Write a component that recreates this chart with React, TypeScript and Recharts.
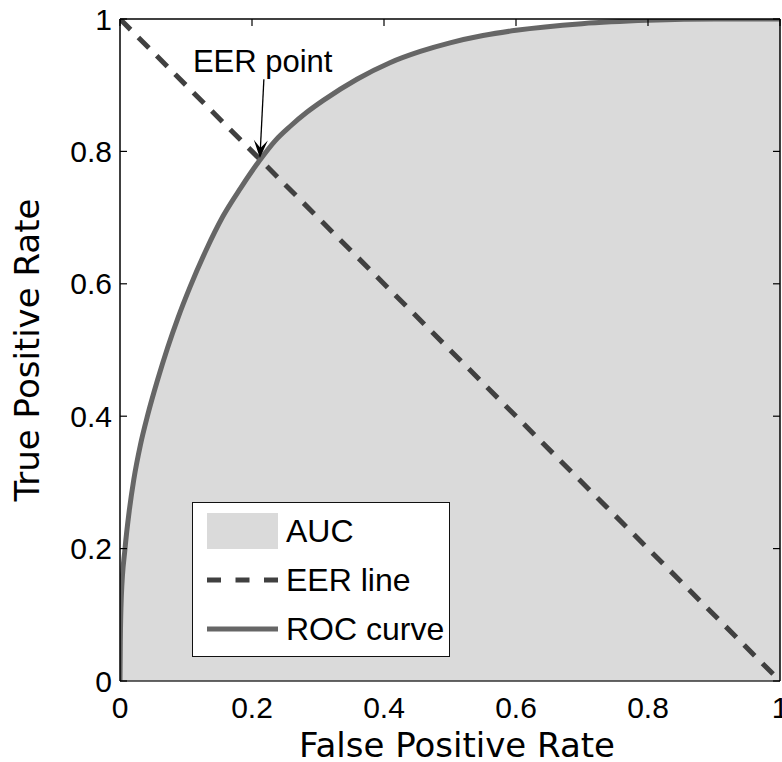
import React from "react";
import {
  Area,
  ComposedChart,
  Label,
  Legend,
  Line,
  ReferenceLine,
  XAxis,
  YAxis
} from "recharts";

// ROC curve (false positive rate -> true positive rate)
const fprValues = [0, 0.0005, 0.002, 0.0076, 0.014, 0.021, 0.031, 0.042, 0.057, 0.072, 0.088, 0.106, 0.13, 0.156, 0.183, 0.212, 0.235, 0.258, 0.283, 0.308, 0.359, 0.409, 0.455, 0.5, 0.55, 0.6, 0.7, 0.8, 0.9, 1];
const tprValues = [0, 0.06, 0.127, 0.2, 0.257, 0.305, 0.357, 0.402, 0.455, 0.503, 0.549, 0.595, 0.65, 0.702, 0.745, 0.787, 0.816, 0.838, 0.859, 0.877, 0.909, 0.934, 0.951, 0.964, 0.975, 0.983, 0.993, 0.998, 1, 1];

// equal error rate line, corner to corner
const eerFpr = [0, 1];
const eerTpr = [1, 0];

// annotation arrow: from label down to the EER point
const eerArrowFrom = [0.218, 0.909];
const eerPoint = [0.212, 0.79];

const axisTicks = [0, 0.2, 0.4, 0.6, 0.8, 1];
const legendOrder = ["AUC", "EER line", "ROC curve"];

const rocData = fprValues.map((fpr, i) => ({ fpr, tpr: tprValues[i] }));
const eerData = eerFpr.map((fpr, i) => ({ fpr, eer: eerTpr[i] }));

const AUC_FILL = "#dadada";
const ROC_STROKE = "#666666";
const EER_STROKE = "#404040";
const tickFont = { fill: "#000", fontSize: 30, fontFamily: "Liberation Sans, Arial, sans-serif" };
const titleFont = { fill: "#000", fontSize: 34, fontFamily: "DejaVu Sans, sans-serif" };

// inner tick marks only, no labels
const EmptyTick = () => <g />;

function ArrowShape(props: any) {
  const { x1, y1, x2, y2 } = props;
  if (x1 == null || x2 == null) return null;
  const len = Math.hypot(x2 - x1, y2 - y1) || 1;
  const dx = (x2 - x1) / len;
  const dy = (y2 - y1) / len;
  const nx = -dy;
  const ny = dx;
  const back = 18;
  const half = 7;
  const notch = 10;
  const head = [
    [x2, y2],
    [x2 - back * dx + half * nx, y2 - back * dy + half * ny],
    [x2 - notch * dx, y2 - notch * dy],
    [x2 - back * dx - half * nx, y2 - back * dy - half * ny]
  ]
    .map((p) => p.join(","))
    .join(" ");
  return (
    <g>
      <line x1={x1} y1={y1} x2={x2 - notch * dx} y2={y2 - notch * dy} stroke="#000" strokeWidth={1.3} />
      <polygon points={head} fill="#000" />
      <text
        x={x1 - 71}
        y={y1 - 7.5}
        fontSize={31}
        fontFamily="Liberation Sans, Arial, sans-serif"
        fill="#000"
      >
        EER point
      </text>
    </g>
  );
}

function LegendSwatch({ name }: { name: string }) {
  if (name === "AUC") {
    return <div style={{ width: 71, height: 36, background: AUC_FILL }} />;
  }
  return (
    <svg width={71} height={10} style={{ display: "block" }}>
      <line
        x1={0}
        y1={5}
        x2={71}
        y2={5}
        stroke={name === "EER line" ? EER_STROKE : ROC_STROKE}
        strokeWidth={5}
        strokeDasharray={name === "EER line" ? "14 14.5" : undefined}
      />
    </svg>
  );
}

function RocLegend(props: any) {
  const names: string[] = (props.payload || []).map((p: any) => String(p.value));
  const items = legendOrder.filter((n) => names.length === 0 || names.includes(n));
  return (
    <div
      style={{
        boxSizing: "border-box",
        width: 258,
        height: 155,
        border: "1.5px solid #111",
        background: "#fff",
        paddingTop: 3,
        fontFamily: "Liberation Sans, Arial, sans-serif",
        fontSize: 32,
        color: "#000"
      }}
    >
      {items.map((name) => (
        <div
          key={name}
          style={{ height: 49, display: "flex", alignItems: "center", paddingLeft: 14 }}
        >
          <div style={{ width: 71, display: "flex", alignItems: "center" }}>
            <LegendSwatch name={name} />
          </div>
          <span style={{ marginLeft: 8, lineHeight: 1 }}>{name}</span>
        </div>
      ))}
    </div>
  );
}

export default function App() {
  return (
    <div style={{ position: "absolute", left: 0, top: 0, width: 782, height: 762, overflow: "hidden", background: "#fff" }}>
      <ComposedChart
        width={800}
        height={762}
        data={rocData}
        margin={{ top: 19, right: 20, bottom: 0, left: 0 }}
      >
        <XAxis
          dataKey="fpr"
          type="number"
          domain={[0, 1]}
          allowDataOverflow
          ticks={axisTicks}
          interval={0}
          height={81}
          tickLine={false}
          tickSize={0}
          tickMargin={16}
          axisLine={{ stroke: "#333", strokeWidth: 1.5 }}
          tick={tickFont}
        >
          <Label value="False Positive Rate" position="insideBottom" offset={5} dx={7} style={titleFont} />
        </XAxis>
        <XAxis
          xAxisId="top"
          orientation="top"
          dataKey="fpr"
          type="number"
          domain={[0, 1]}
          allowDataOverflow
          ticks={axisTicks}
          interval={0}
          height={10}
          mirror
          tick={EmptyTick}
          tickSize={7}
          tickLine={{ stroke: "#000", strokeWidth: 1.2 }}
          axisLine={{ stroke: "#000", strokeWidth: 1.5 }}
        />
        <YAxis
          type="number"
          domain={[0, 1]}
          allowDataOverflow
          ticks={axisTicks}
          interval={0}
          width={120}
          tickLine={false}
          tickSize={0}
          tickMargin={8}
          axisLine={{ stroke: "#000", strokeWidth: 1.5 }}
          tick={tickFont}
        >
          <Label
            value="True Positive Rate"
            angle={-90}
            position="insideLeft"
            offset={27}
            style={{ ...titleFont, textAnchor: "middle" }}
          />
        </YAxis>
        <YAxis
          yAxisId="leftIn"
          orientation="left"
          dataKey="tpr"
          type="number"
          domain={[0, 1]}
          allowDataOverflow
          ticks={axisTicks}
          interval={0}
          width={10}
          mirror
          tick={EmptyTick}
          tickSize={7}
          tickLine={{ stroke: "#000", strokeWidth: 1.2 }}
          axisLine={false}
        />
        <YAxis
          yAxisId="right"
          orientation="right"
          dataKey="tpr"
          type="number"
          domain={[0, 1]}
          allowDataOverflow
          ticks={axisTicks}
          interval={0}
          width={10}
          mirror
          tick={EmptyTick}
          tickSize={7}
          tickLine={{ stroke: "#000", strokeWidth: 1.2 }}
          axisLine={{ stroke: "#000", strokeWidth: 1.5 }}
        />
        <Area
          name="AUC"
          dataKey="tpr"
          type="monotone"
          stroke="none"
          fill={AUC_FILL}
          fillOpacity={1}
          isAnimationActive={false}
          activeDot={false}
        />
        <Line
          name="EER line"
          data={eerData}
          dataKey="eer"
          type="linear"
          stroke={EER_STROKE}
          strokeWidth={5}
          strokeDasharray="15 11"
          dot={false}
          activeDot={false}
          isAnimationActive={false}
        />
        <Line
          name="ROC curve"
          dataKey="tpr"
          type="monotone"
          stroke={ROC_STROKE}
          strokeWidth={5}
          dot={false}
          activeDot={false}
          isAnimationActive={false}
        />
        <ReferenceLine
          segment={[
            { x: eerArrowFrom[0], y: eerArrowFrom[1] },
            { x: eerPoint[0], y: eerPoint[1] }
          ]}
          shape={ArrowShape}
        />
        <Legend
          layout="horizontal"
          verticalAlign="middle"
          align="center"
          content={RocLegend}
          wrapperStyle={{ left: 192, top: 502, width: 258, height: 155 }}
        />
      </ComposedChart>
    </div>
  );
}
